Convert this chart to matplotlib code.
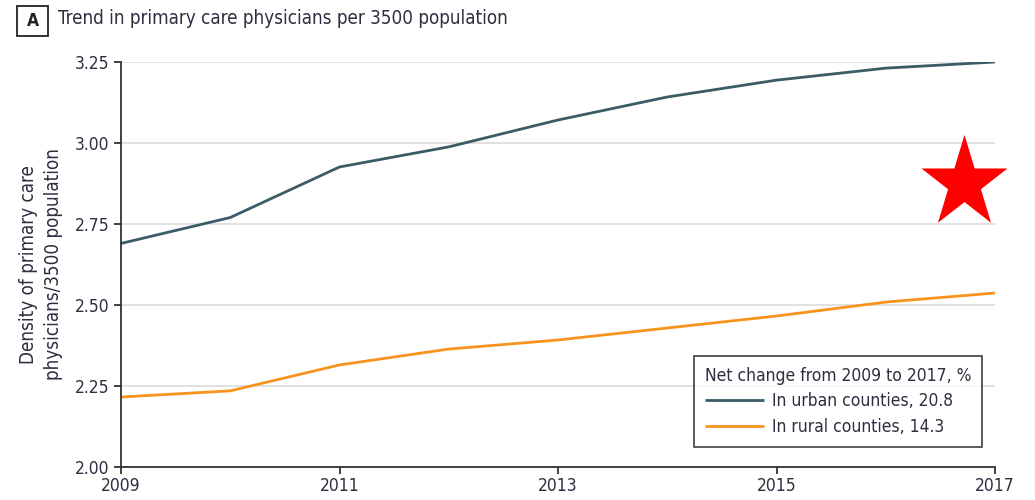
import matplotlib
matplotlib.use("Agg")
import matplotlib.pyplot as plt
from matplotlib.lines import Line2D
from matplotlib.patches import Rectangle
from matplotlib.path import Path

plt.rcParams['font.family'] = ['DejaVu Sans']
plt.rcParams['font.stretch'] = 'condensed'

years = [2009, 2010, 2011, 2012, 2013, 2014, 2015, 2016, 2017]
urban = [2.69, 2.77, 2.926, 2.988, 3.071, 3.142, 3.194, 3.231, 3.25]
rural = [2.216, 2.235, 2.315, 2.364, 2.392, 2.429, 2.466, 2.509, 2.537]
urban_label = "In urban counties, 20.8"
rural_label = "In rural counties, 14.3"
legend_title = "Net change from 2009 to 2017, %"
x_ticks = [2009, 2011, 2013, 2015, 2017]
y_ticks = [2.00, 2.25, 2.50, 2.75, 3.00, 3.25]

text_color = "#2e2e40"
urban_color = "#3b5b66"
rural_color = "#f7941d"

W, H = 1035, 500
fig = plt.figure(figsize=(W / 100, H / 100), dpi=100)
ax = fig.add_axes([121/W, 1-467/H, (995-121)/W, (467-62)/H])

ax.plot(years, urban, color=urban_color, lw=2.0, label=urban_label, solid_capstyle='butt')
ax.plot(years, rural, color=rural_color, lw=2.0, label=rural_label, solid_capstyle='butt')

ax.set_xlim(2009, 2017)
ax.set_ylim(2.0, 3.25)
ax.set_xticks(x_ticks)
ax.set_yticks(y_ticks)
ax.set_yticklabels([f"{v:.2f}" for v in y_ticks])
ax.grid(axis='y', color='#dcdcdc', lw=1.2)
ax.set_axisbelow(True)
for s in ['top', 'right']:
    ax.spines[s].set_visible(False)
for s in ['left', 'bottom']:
    ax.spines[s].set_color('#333333')
    ax.spines[s].set_linewidth(1.3)
ax.tick_params(axis='both', colors='#333333', labelcolor=text_color, labelsize=12.5,
               length=5, width=1.3, direction='out')
ax.tick_params(axis='x', pad=2)

ax.set_ylabel("Density of primary care\nphysicians/3500 population", fontsize=13.5,
              color=text_color, labelpad=8, linespacing=1.4)

leg = ax.legend(title=legend_title, loc='lower right', bbox_to_anchor=(982/W, 1-447/H),
                bbox_transform=fig.transFigure, borderaxespad=0, fontsize=12.5,
                title_fontsize=12.5, frameon=True, fancybox=False, edgecolor='#222222',
                handlelength=3.4, handletextpad=0.5, borderpad=0.62, labelspacing=0.45,
                alignment='left')
leg.get_frame().set_linewidth(1.3)
leg.get_title().set_color(text_color)
for t in leg.get_texts():
    t.set_color(text_color)

# panel letter in a square box, then the heading
fig.add_artist(Rectangle((17/W, 1-36/H), 31/W, 30/H, transform=fig.transFigure,
                         fc='white', ec='#222222', lw=1.3))
fig.text(32.5/W, 1-21/H, "A", fontsize=12.5, fontweight='bold', color='#222222',
         ha='center', va='center')
fig.text(58/W, 1-19/H, "Trend in primary care physicians per 3500 population",
         fontsize=13.5, color=text_color, ha='left', va='center')

# red star, slightly narrower than a regular pentagram
star = Path.unit_regular_star(5, 0.3819660)
star = Path(star.vertices * [0.93, 1.0], star.codes)
fig.add_artist(Line2D([964/W], [1-183/H], marker=star, markersize=70,
                      color='#ff0000', markeredgewidth=0, linestyle='none',
                      transform=fig.transFigure))

fig.savefig("out.png", dpi=100)
